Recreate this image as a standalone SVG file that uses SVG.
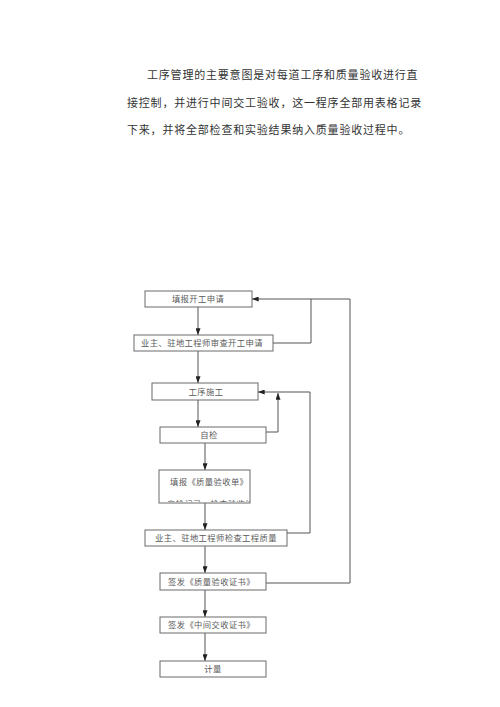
<svg xmlns="http://www.w3.org/2000/svg" width="500" height="707" viewBox="0 0 500 707">
<style>
.para{font-family:"Noto Sans CJK SC","Noto Sans CJK JP",sans-serif;font-size:11px;fill:#333;letter-spacing:0.8px}
.box{fill:#fff;stroke:#6a6a6a;stroke-width:1}
.lbl{font-family:"Noto Sans CJK SC","Noto Sans CJK JP",sans-serif;font-size:8.3px;fill:#5a5a5a;letter-spacing:0.4px}
.c{text-anchor:middle}
.ln{fill:none;stroke:#555;stroke-width:1}
</style>
<defs>
<marker id="ah" viewBox="0 0 8 6" refX="8" refY="3" markerWidth="7" markerHeight="5" orient="auto" markerUnits="userSpaceOnUse">
<path d="M0,0 L8,3 L0,6 Z" fill="#222"/>
</marker>
<clipPath id="clip5"><rect x="159" y="470" width="91" height="32"/></clipPath>
</defs>
<rect width="500" height="707" fill="#fff"/>
<g id="intro">
<text class="para" x="147" y="79">工序管理的主要意图是对每道工序和质量验收进行直</text>
<text class="para" x="127" y="107">接控制，并进行中间交工验收，这一程序全部用表格记录</text>
<text class="para" x="127" y="134">下来，并将全部检查和实验结果纳入质量验收过程中。</text>
</g>
<g id="connectors">
<line class="ln" x1="198" y1="307" x2="198" y2="335" marker-end="url(#ah)"/>
<line class="ln" x1="198" y1="351" x2="198" y2="383" marker-end="url(#ah)"/>
<line class="ln" x1="198" y1="400" x2="198" y2="427" marker-end="url(#ah)"/>
<line class="ln" x1="205" y1="443" x2="205" y2="470" marker-end="url(#ah)"/>
<line class="ln" x1="205" y1="503" x2="205" y2="530" marker-end="url(#ah)"/>
<line class="ln" x1="205" y1="546" x2="205" y2="573" marker-end="url(#ah)"/>
<line class="ln" x1="205" y1="590" x2="205" y2="617" marker-end="url(#ah)"/>
<line class="ln" x1="205" y1="633" x2="205" y2="661" marker-end="url(#ah)"/>
<polyline class="ln" points="273,343 311,343 311,299 252,299" marker-end="url(#ah)"/>
<polyline class="ln" points="266,583 350,583 350,299 311,299"/>
<polyline class="ln" points="266,432 278,432 278,393" marker-end="url(#ah)"/>
<polyline class="ln" points="287,533 310,533 310,392 258,392" marker-end="url(#ah)"/>
</g>
<g id="n1"><rect class="box" x="145" y="291" width="107" height="16"/><text class="lbl c" x="198" y="302">填报开工申请</text></g>
<g id="n2"><rect class="box" x="134" y="335" width="139" height="16"/><text class="lbl c" x="202" y="346">业主、驻地工程师审查开工申请</text></g>
<g id="n3"><rect class="box" x="152" y="383" width="106" height="17"/><text class="lbl c" x="206" y="395">工序施工</text></g>
<g id="n4"><rect class="box" x="160" y="427" width="106" height="16"/><text class="lbl c" x="209" y="438">自检</text></g>
<g id="n5"><rect class="box" x="159" y="470" width="91" height="33"/>
<text class="lbl" x="170" y="485" font-size="8.6">填报《质量验收单》</text>
<text class="lbl" x="167" y="507" clip-path="url(#clip5)">自检记录、检查验收结果</text></g>
<g id="n6"><rect class="box" x="145" y="530" width="142" height="16"/><text class="lbl c" x="216" y="541">业主、驻地工程师检查工程质量</text></g>
<g id="n7"><rect class="box" x="160" y="573" width="106" height="17"/><text class="lbl" x="168" y="585">签发《质量验收证书》</text></g>
<g id="n8"><rect class="box" x="160" y="617" width="106" height="16"/><text class="lbl" x="168" y="628">签发《中间交收证书》</text></g>
<g id="n9"><rect class="box" x="160" y="661" width="106" height="16"/><text class="lbl c" x="213" y="672">计量</text></g>
</svg>
